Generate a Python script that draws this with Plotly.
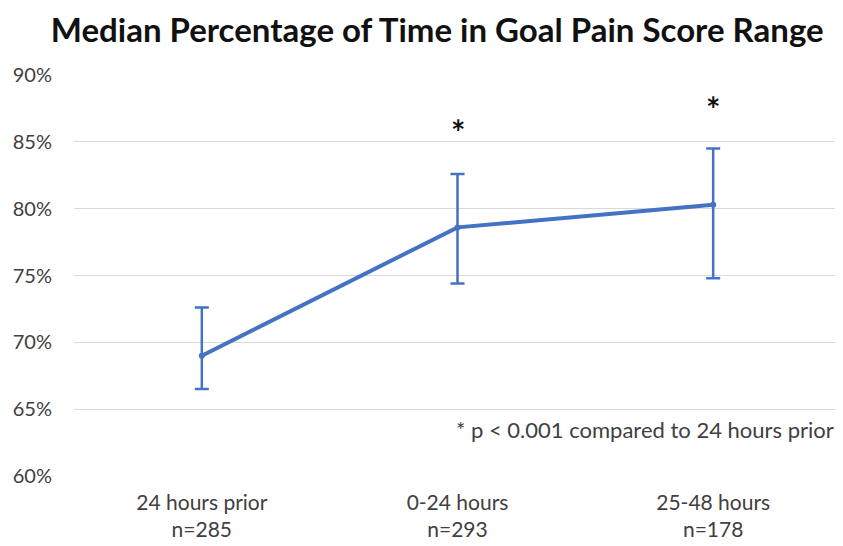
import plotly.graph_objects as go

categories = ["24 hours prior<br>n=285", "0-24 hours<br>n=293", "25-48 hours<br>n=178"]
medians = [0.690, 0.786, 0.803]
upper = [0.726, 0.826, 0.845]
lower = [0.665, 0.744, 0.748]
star_labels = ["", "*", "*"]
star_y = [None, 0.858, 0.8746]
y_ticks = [0.60, 0.65, 0.70, 0.75, 0.80, 0.85, 0.90]

err_plus = [u - m for u, m in zip(upper, medians)]
err_minus = [m - l for m, l in zip(medians, lower)]

FONT = "Lato"
blue = "#4472C4"
fig = go.Figure()
fig.add_trace(go.Scatter(
    x=categories, y=medians, mode="lines+markers",
    line=dict(color=blue, width=4),
    marker=dict(color=blue, size=6),
    error_y=dict(type="data", symmetric=False, array=err_plus, arrayminus=err_minus,
                 color=blue, thickness=2.5, width=7),
    showlegend=False, hoverinfo="skip"))

for c, s, yv in zip(categories, star_labels, star_y):
    if s:
        fig.add_annotation(x=c, y=yv, text="<b>" + s + "</b>", showarrow=False,
                           font=dict(family=FONT, size=34, color="#111111"))

fig.add_annotation(xref="paper", yref="paper", x=0.9935, y=0.117, xanchor="right",
                   yanchor="middle", showarrow=False,
                   text="* p < 0.001 compared to 24 hours prior",
                   font=dict(family=FONT, size=22, color="#404040"))

fig.update_layout(
    width=835, height=538,
    margin=dict(l=66, r=2, t=67, b=70, autoexpand=False),
    paper_bgcolor="white", plot_bgcolor="white",
    title=dict(text="<b>Median Percentage of Time in Goal Pain Score Range</b>",
               x=0.514, xanchor="center", y=0.958, yanchor="middle",
               font=dict(family=FONT, size=33, color="#111111")),
    font=dict(family=FONT, color="#404040"),
)
fig.update_xaxes(showgrid=False, showline=False, zeroline=False, ticks="",
                 range=[-0.5, 2.5], automargin=False, ticklabelstandoff=12,
                 tickfont=dict(size=21, color="#404040"))
fig.update_yaxes(range=[0.6, 0.9], tickvals=y_ticks, tickformat=".0%",
                 showgrid=True, gridcolor="#d9d9d9", gridwidth=1,
                 zeroline=False, showline=False, ticks="", ticklabelstandoff=21,
                 automargin=False, tickfont=dict(size=20, color="#404040"))

fig.write_html("out.html")
